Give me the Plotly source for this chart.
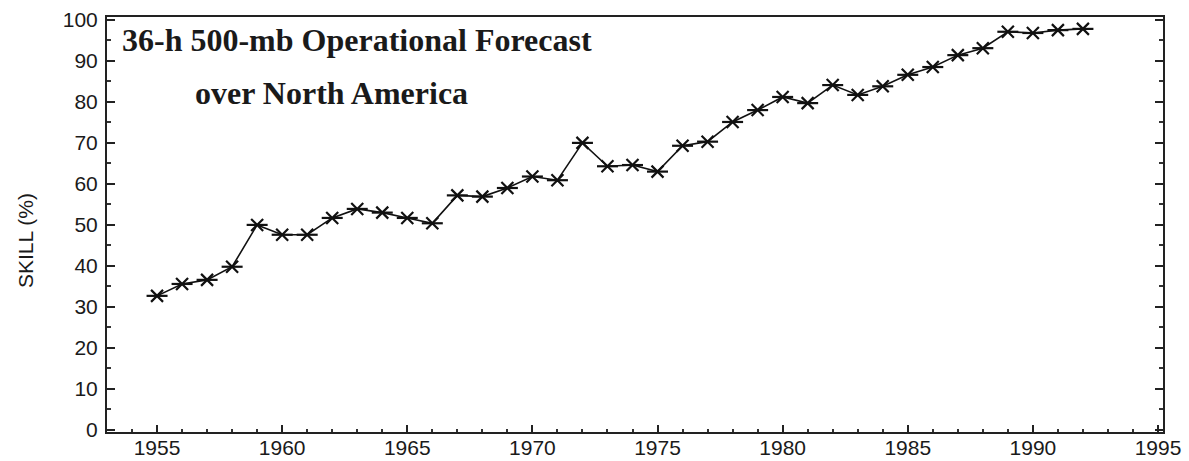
import plotly.graph_objects as go

years = list(range(1955, 1993))
skill = [32.7, 35.6, 36.6, 39.8, 50.0, 47.6, 47.6, 51.7, 53.9, 53.0,
         51.7, 50.4, 57.2, 56.9, 59.0, 61.8, 60.9, 70.0, 64.3, 64.6,
         63.0, 69.3, 70.3, 75.1, 78.0, 81.2, 79.7, 84.1, 81.7, 83.8,
         86.6, 88.5, 91.4, 93.1, 97.1, 96.8, 97.5, 97.8]

x_ticks = [1955, 1960, 1965, 1970, 1975, 1980, 1985, 1990, 1995]
y_ticks = [0, 10, 20, 30, 40, 50, 60, 70, 80, 90, 100]

title_line1 = "36-h 500-mb Operational Forecast"
title_line2 = "over North America"
y_title = "SKILL (%)"

W, H = 1189, 461
# plot area in page pixels
PL, PR, PT, PB = 107, 1163, 17, 432
PW, PH = PR - PL, PB - PT


def px(xp):
    return (xp - PL) / PW


def py(yp):
    return 1 - (yp - PT) / PH


fig = go.Figure()
fig.add_trace(go.Scatter(
    x=years, y=skill, mode="lines+markers",
    line=dict(color="#111", width=1.6),
    marker=dict(symbol="x-thin-open", size=12, color="#111",
                line=dict(color="#111", width=2.2)),
    showlegend=False, hoverinfo="skip"))
fig.add_trace(go.Scatter(
    x=years, y=skill, mode="markers",
    marker=dict(symbol="line-ew-open", size=15, color="#111",
                line=dict(color="#111", width=2.2)),
    showlegend=False, hoverinfo="skip"))

tickfont = dict(family="Liberation Sans, Arial, sans-serif", size=21, color="#1a1a1a")

fig.update_layout(
    width=W, height=H,
    margin=dict(l=PL, r=W - PR, t=PT, b=H - PB, pad=0, autoexpand=False),
    paper_bgcolor="white", plot_bgcolor="white",
    xaxis=dict(
        range=[1953.0, 1995.2], tickvals=x_ticks, automargin=False,
        ticks="inside", ticklen=7, tickwidth=2, tickcolor="#222",
        minor=dict(dtick=1, ticks="inside", ticklen=3, tickwidth=1.5, tickcolor="#333"),
        showline=True, linecolor="#222", linewidth=2, mirror=True,
        showgrid=False, zeroline=False, tickfont=tickfont, ticklabelstandoff=-4),
    yaxis=dict(
        range=[-0.5, 100.7], tickvals=y_ticks, automargin=False,
        ticks="inside", ticklen=8, tickwidth=2, tickcolor="#222",
        minor=dict(dtick=5, ticks="inside", ticklen=4, tickwidth=1.5, tickcolor="#333"),
        showline=True, linecolor="#222", linewidth=2, mirror="allticks",
        showgrid=False, zeroline=False, tickfont=tickfont, ticklabelstandoff=3),
    annotations=[
        dict(text="<b>" + title_line1 + "</b>", xref="paper", yref="paper",
             x=px(120), y=py(20), xanchor="left", yanchor="top",
             showarrow=False,
             font=dict(family="Liberation Serif, Times New Roman, serif", size=32, color="#1a1a1a")),
        dict(text="<b>" + title_line2 + "</b>", xref="paper", yref="paper",
             x=px(331), y=py(73), xanchor="center", yanchor="top",
             showarrow=False,
             font=dict(family="Liberation Serif, Times New Roman, serif", size=32, color="#1a1a1a")),
        dict(text=y_title, xref="paper", yref="paper", textangle=-90,
             x=px(25), y=py(241), xanchor="center", yanchor="middle",
             showarrow=False,
             font=dict(family="Liberation Sans, Arial, sans-serif", size=21, color="#1a1a1a")),
    ],
)

fig.write_html(
    "out.html",
    config={"displayModeBar": False},
    post_script="document.body.style.margin='0';document.body.style.overflow='hidden';",
)
